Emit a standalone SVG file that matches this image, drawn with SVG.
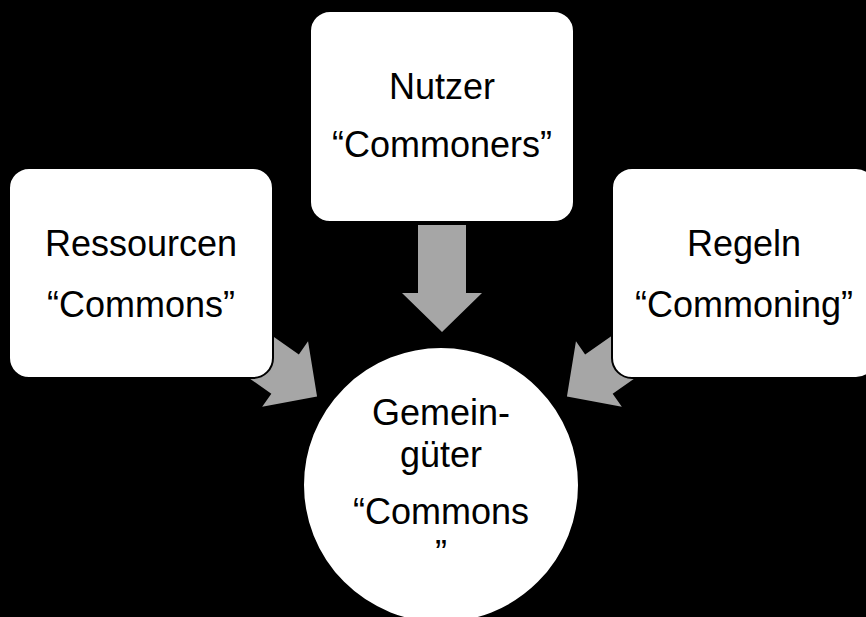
<svg xmlns="http://www.w3.org/2000/svg" width="866" height="617" viewBox="0 0 866 617">
<defs>
<style>
.box{fill:#FFFFFF;stroke:#000000;stroke-width:2}
.arrow{fill:#A6A6A6;stroke:none}
.t{font-family:"Liberation Sans",Arial,sans-serif;font-size:36px;fill:#000000;text-anchor:middle}
</style>
<path id="blk" d="M0,-24 L68,-24 L68,-40 L107,0 L68,40 L68,24 L0,24 Z"/>
</defs>
<rect x="0" y="0" width="866" height="617" fill="#000000"/>
<g id="connectors">
<use href="#blk" class="arrow" transform="translate(442,225) rotate(90)"/>
<use href="#blk" class="arrow" transform="translate(229.4,335.1) rotate(35)"/>
<use href="#blk" class="arrow" transform="translate(654.6,335.1) rotate(145)"/>
</g>
<g id="node-nutzer">
<rect class="box" x="310" y="11" width="264" height="211" rx="20" ry="20"/>
<text class="t" x="442" y="99">Nutzer</text>
<text class="t" x="442" y="157">“Commoners”</text>
</g>
<g id="node-ressourcen">
<rect class="box" x="9" y="168" width="264" height="210" rx="20" ry="20"/>
<text class="t" x="141" y="256">Ressourcen</text>
<text class="t" x="141" y="317">“Commons”</text>
</g>
<g id="node-regeln">
<rect class="box" x="612" y="168" width="264" height="210" rx="20" ry="20"/>
<text class="t" x="744" y="256">Regeln</text>
<text class="t" x="744" y="317">“Commoning”</text>
</g>
<g id="node-gemeingueter">
<circle class="box" cx="441" cy="485" r="138"/>
<text class="t" x="441" y="425">Gemein-</text>
<text class="t" x="441" y="467">güter</text>
<text class="t" x="441" y="524">“Commons</text>
<text class="t" x="441" y="566">”</text>
</g>
</svg>
